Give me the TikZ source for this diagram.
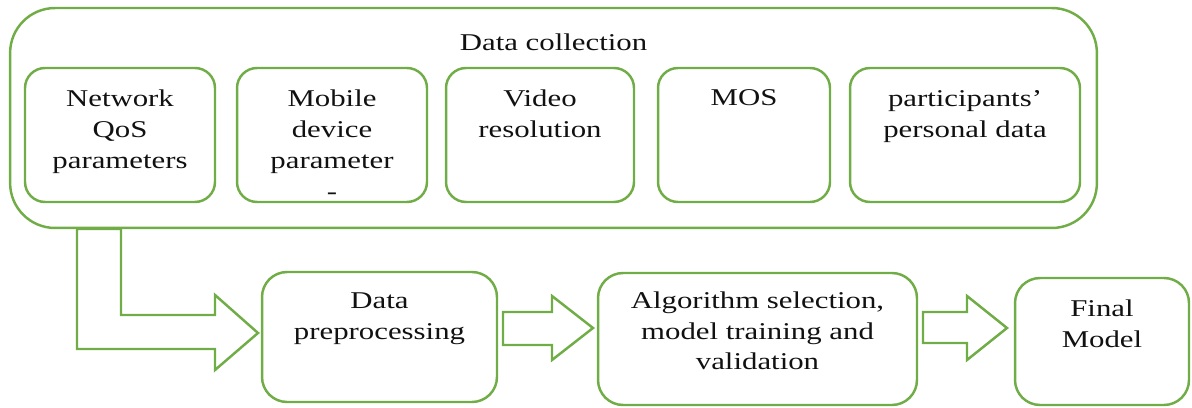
\documentclass[tikz,border=0pt]{standalone}
\usepackage{fontspec}
\setmainfont{Liberation Serif}[FakeStretch=1.28]
\usepackage{xcolor}
\usepackage{tikz}
\usetikzlibrary{positioning}
\definecolor{boxgreen}{HTML}{70AD47}
\definecolor{textblack}{HTML}{111111}

\begin{document}
\begin{tikzpicture}[
  x=0.02cm, y=-0.02cm,
  frame/.style={rectangle, draw=boxgreen, line width=1.4pt, rounded corners=#1},
  frame/.default=0.4cm,
  lbl/.style={align=center, inner sep=0pt, text=textblack,
    font=\fontsize{13.7}{17.5}\selectfont},
  flow/.style={draw=boxgreen, line width=1.4pt, line join=miter},
]
  \useasboundingbox (0,0) rectangle (1192,408);

  % data collection group
  \node[frame=0.9cm, minimum width=21.74cm, minimum height=4.4cm] (collect) at (553.5,118) {};
  \node[lbl, below=0.54cm of collect.north] (collectlbl) {Data collection};

  \node[frame, minimum width=3.8cm, minimum height=2.68cm] (qos) at (120,135) {};
  \node[lbl, below=0.46cm of qos.north] (qoslbl) {Network\\QoS\\parameters};
  \node[frame, minimum width=3.8cm, minimum height=2.68cm] (device) at (332,135) {};
  \node[lbl, below=0.46cm of device.north] (devicelbl) {Mobile\\device\\parameter\\-};
  \node[frame, minimum width=3.76cm, minimum height=2.68cm] (video) at (540,135) {};
  \node[lbl, below=0.45cm of video.north] (videolbl) {Video\\resolution};
  \node[frame, minimum width=3.44cm, minimum height=2.68cm] (mos) at (744,135) {};
  \node[lbl, below=0.45cm of mos.north] (moslbl) {MOS};
  \node[frame, minimum width=4.6cm, minimum height=2.68cm] (person) at (965,135) {};
  \node[lbl, below=0.47cm of person.north] (personlbl) {participants’\\personal data};

  % pipeline
  \node[frame=0.5cm, minimum width=4.7cm, minimum height=2.6cm] (prep) at (379.5,337) {};
  \node[lbl, below=0.44cm of prep.north] (preplbl) {Data\\preprocessing};
  \node[frame=0.5cm, minimum width=6.38cm, minimum height=2.64cm] (algo) at (757.5,339) {};
  \node[lbl, below=0.39cm of algo.north] (algolbl) {Algorithm selection,\\model training and\\validation};
  \node[frame=0.5cm, minimum width=3.48cm, minimum height=2.54cm] (final) at (1102,341.5) {};
  \node[lbl, below=0.45cm of final.north] (finallbl) {Final\\Model};

  % block arrows
  \draw[flow] (77,229) -- (121,229) -- (121,315) -- (215,315) -- (215,295)
    -- (258,333) -- (215,370) -- (215,349) -- (77,349) -- cycle;
  \draw[flow] (503,312) -- (552,312) -- (552,296) -- (593,328)
    -- (552,360) -- (552,345) -- (503,345) -- cycle;
  \draw[flow] (923,312) -- (967,312) -- (967,296) -- (1007,328)
    -- (967,360) -- (967,343) -- (923,343) -- cycle;
\end{tikzpicture}
\end{document}
